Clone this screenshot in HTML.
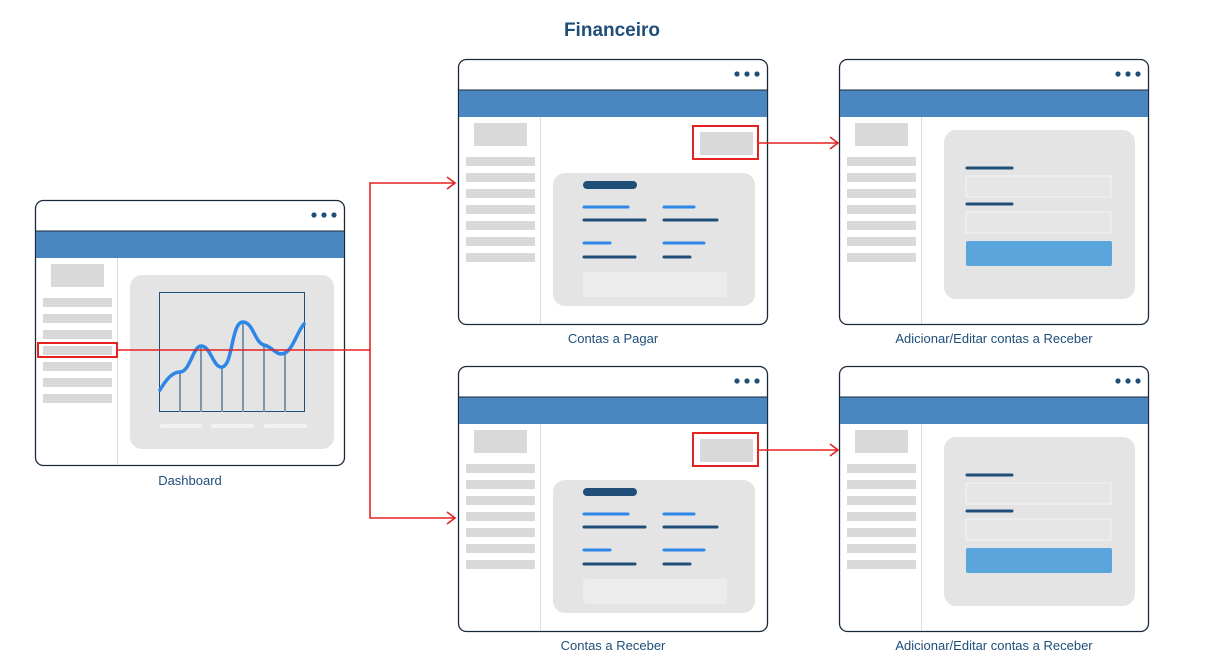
<!DOCTYPE html>
<html><head><meta charset="utf-8"><style>
html,body{margin:0;padding:0;background:#fff;width:1223px;height:670px;overflow:hidden}
svg text{font-family:"Liberation Sans",sans-serif;fill:#1f4e79}
</style></head><body>
<svg width="1223" height="670" viewBox="0 0 1223 670" xmlns="http://www.w3.org/2000/svg">
<defs>
<g id="frame">
  <rect x="0.5" y="0.5" width="309" height="265" rx="8" fill="#fff" stroke="#1b2a3a" stroke-width="1.3"/>
  <rect x="1" y="31" width="308" height="27" fill="#4a87c0"/>
  <line x1="1" y1="31" x2="309" y2="31" stroke="#1b2a3a" stroke-width="1"/>
  <line x1="82.5" y1="58" x2="82.5" y2="265" stroke="#ddd" stroke-width="1"/>
  <circle cx="279" cy="15" r="2.6" fill="#1f4e79"/><circle cx="289" cy="15" r="2.6" fill="#1f4e79"/><circle cx="299" cy="15" r="2.6" fill="#1f4e79"/>
  <rect x="16" y="64" width="53" height="23" fill="#d9d9d9"/>
  <g fill="#d9d9d9">
  <rect x="8" y="98" width="69" height="9"/><rect x="8" y="114" width="69" height="9"/><rect x="8" y="130" width="69" height="9"/><rect x="8" y="146" width="69" height="9"/><rect x="8" y="162" width="69" height="9"/><rect x="8" y="178" width="69" height="9"/><rect x="8" y="194" width="69" height="9"/>
  </g>
</g>
<g id="list">
  <use href="#frame"/>
  <rect x="235" y="67" width="65" height="33" fill="none" stroke="#e52222" stroke-width="2"/>
  <rect x="242" y="73" width="53" height="23" fill="#d9d9d9"/>
  <rect x="95" y="114" width="202" height="133" rx="12" fill="#e4e4e4"/>
  <rect x="125" y="122" width="54" height="8" rx="4" fill="#1f4e79"/>
  <g stroke-linecap="round" stroke-width="3">
  <line x1="126" y1="148" x2="170" y2="148" stroke="#2e86e6"/><line x1="206" y1="148" x2="236" y2="148" stroke="#2e86e6"/>
  <line x1="126" y1="161" x2="187" y2="161" stroke="#1f4e79"/><line x1="206" y1="161" x2="259" y2="161" stroke="#1f4e79"/>
  <line x1="126" y1="184" x2="152" y2="184" stroke="#2e86e6"/><line x1="206" y1="184" x2="246" y2="184" stroke="#2e86e6"/>
  <line x1="126" y1="198" x2="177" y2="198" stroke="#1f4e79"/><line x1="206" y1="198" x2="232" y2="198" stroke="#1f4e79"/>
  </g>
  <rect x="125" y="213" width="144" height="25" rx="3" fill="#ececec"/>
</g>
<g id="form">
  <use href="#frame"/>
  <rect x="105" y="71" width="191" height="169" rx="12" fill="#e4e4e4"/>
  <line x1="128" y1="109" x2="173" y2="109" stroke="#1f4e79" stroke-width="3" stroke-linecap="round"/>
  <rect x="127" y="117" width="145" height="21" fill="#e6e6e6" stroke="#f4f4f4" stroke-width="1"/>
  <line x1="128" y1="145" x2="173" y2="145" stroke="#1f4e79" stroke-width="3" stroke-linecap="round"/>
  <rect x="127" y="153" width="145" height="21" fill="#e6e6e6" stroke="#f4f4f4" stroke-width="1"/>
  <rect x="127" y="182" width="146" height="25" rx="2" fill="#5aa5dc"/>
</g>
</defs>

<text x="612" y="36" text-anchor="middle" font-size="19" font-weight="bold">Financeiro</text>

<!-- dashboard -->
<g transform="translate(35,200)">
  <use href="#frame"/>
  <rect x="95" y="75" width="204" height="174" rx="12" fill="#e4e4e4"/>
  <rect x="124.5" y="92.5" width="145" height="119" fill="none" stroke="#1f4e79" stroke-width="1"/>
  <g stroke="#7a97ae" stroke-width="2">
  <line x1="145" y1="173" x2="145" y2="212"/><line x1="166" y1="147" x2="166" y2="212"/><line x1="187" y1="167" x2="187" y2="212"/><line x1="208" y1="123" x2="208" y2="212"/><line x1="229" y1="146" x2="229" y2="212"/><line x1="250" y1="153" x2="250" y2="212"/>
  </g>
  <path d="M125 190 C132 178,138 172,145 172 C155 172,158 146,166 146 C176 146,178 168,187 167 C198 166,196 122,208 122 C218 122,220 143,229 145 C238 147,242 157,250 153 C258 149,262 132,269 124" fill="none" stroke="#2e86e6" stroke-width="3.5" stroke-linecap="round"/>
  <g stroke="#f2f2f2" stroke-width="4" stroke-linecap="round">
  <line x1="127" y1="226" x2="165" y2="226"/><line x1="178" y1="226" x2="217" y2="226"/><line x1="231" y1="226" x2="270" y2="226"/>
  </g>
</g>
<text x="190" y="485" text-anchor="middle" font-size="13">Dashboard</text>

<use href="#list" transform="translate(458,59)"/>
<use href="#list" transform="translate(458,366)"/>
<use href="#form" transform="translate(839,59)"/>
<use href="#form" transform="translate(839,366)"/>

<text x="613" y="343" text-anchor="middle" font-size="13">Contas a Pagar</text>
<text x="613" y="650" text-anchor="middle" font-size="13">Contas a Receber</text>
<text x="994" y="343" text-anchor="middle" font-size="13">Adicionar/Editar contas a Receber</text>
<text x="994" y="650" text-anchor="middle" font-size="13">Adicionar/Editar contas a Receber</text>

<!-- connectors -->
<g stroke="#e52222" stroke-width="1.6" fill="none">
  <rect x="38" y="343" width="79" height="14" stroke-width="2"/>
  <polyline points="117,350 370,350"/>
  <polyline points="455,183 370,183 370,518 455,518"/>
  <polyline points="447,177 455,183 447,189"/>
  <polyline points="447,512 455,518 447,524"/>
  <line x1="758" y1="143" x2="838" y2="143"/>
  <polyline points="830,137 838,143 830,149"/>
  <line x1="758" y1="450" x2="838" y2="450"/>
  <polyline points="830,444 838,450 830,456"/>
</g>
</svg>
</body></html>
